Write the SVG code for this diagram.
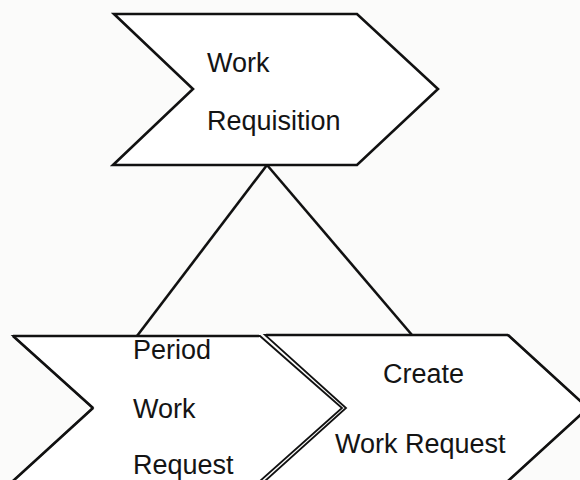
<svg xmlns="http://www.w3.org/2000/svg" width="580" height="480" viewBox="0 0 580 480">
  <style>
    .shape { fill: #ffffff; stroke: #111111; stroke-width: 2.6; stroke-linejoin: miter; }
    .thin { fill: #ffffff; stroke: #111111; stroke-width: 1.8; stroke-linejoin: miter; }
    .link { fill: none; stroke: #111111; stroke-width: 2.6; }
    .label { font-family: "Liberation Sans", Arial, sans-serif; font-size: 27px; fill: #141414; }
  </style>
  <rect x="0" y="0" width="580" height="480" fill="#fbfbfa"/>

  <g id="connectors">
    <line class="link" x1="267" y1="165" x2="137" y2="336"/>
    <line class="link" x1="267" y1="165" x2="412" y2="335"/>
  </g>

  <g id="work-requisition">
    <polygon class="shape" points="114,14 357,14 438,89 357,165 113,165 193,89"/>
    <text class="label" x="207" y="72">Work</text>
    <text class="label" x="207" y="130">Requisition</text>
  </g>

  <g id="create-work-request">
    <polygon class="thin" points="265,335 508,335 588,408 508,481 265,481 346,408"/>
    <line class="link" x1="266" y1="335" x2="508" y2="335"/>
    <line class="link" x1="508" y1="335" x2="588" y2="408"/>
    <line class="link" x1="588" y1="408" x2="508" y2="481"/>
    <text class="label" x="383" y="383">Create</text>
    <text class="label" x="335" y="453">Work Request</text>
  </g>

  <g id="period-work-request">
    <polygon class="thin" points="13,336 260,336 342,408 260,481 13,481 93,408"/>
    <line class="link" x1="13" y1="336" x2="259" y2="336"/>
    <line class="link" x1="13" y1="336" x2="93" y2="408"/>
    <line class="link" x1="93" y1="408" x2="13" y2="481"/>
    <text class="label" x="133" y="359">Period</text>
    <text class="label" x="133" y="418">Work</text>
    <text class="label" x="133" y="474">Request</text>
  </g>
</svg>
